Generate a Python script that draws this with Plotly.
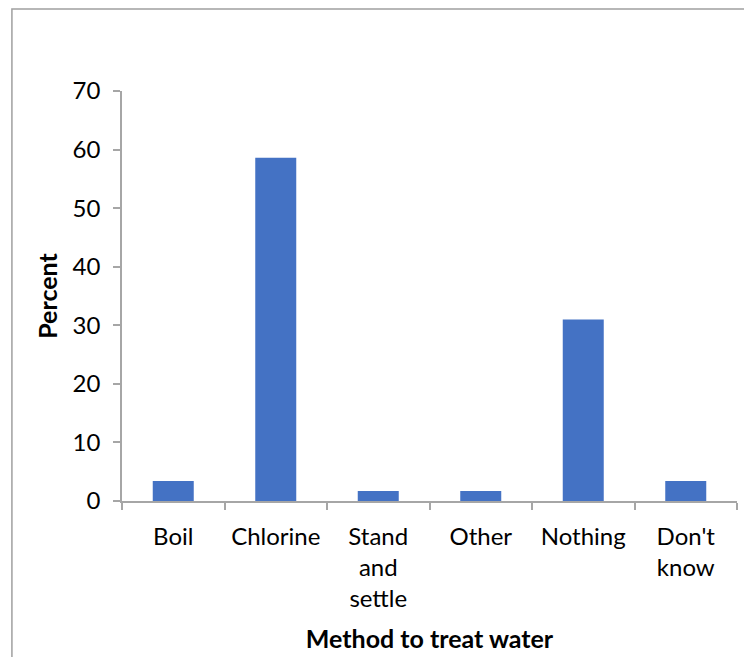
import plotly.graph_objects as go

# Share of households by water treatment method
methods = ["Boil", "Chlorine", "Stand<br>and<br>settle", "Other", "Nothing", "Don't<br>know"]
percent = [3.4, 58.6, 1.7, 1.7, 31.0, 3.4]
y_ticks = [0, 10, 20, 30, 40, 50, 60, 70]

FONT = "Lato"
AXIS_GREY = "#A6A6A6"

fig = go.Figure(
    go.Bar(
        x=methods,
        y=percent,
        marker=dict(color="#4472C4", line=dict(width=0)),
        hoverinfo="x+y",
    )
)

fig.update_layout(
    width=744,
    height=657,
    margin=dict(l=122, r=7, t=91, b=156),
    paper_bgcolor="white",
    plot_bgcolor="white",
    bargap=0.6,
    showlegend=False,
    font=dict(family=FONT, size=24, color="#000000"),
    shapes=[
        dict(
            type="rect",
            xref="paper",
            yref="paper",
            x0=-0.179,
            x1=1.03,
            y0=-0.45,
            y1=1.2,
            line=dict(color="#A0A0A0", width=1.5),
            fillcolor="rgba(0,0,0,0)",
            layer="below",
        )
    ],
)

fig.update_xaxes(
    type="category",
    showline=True,
    linecolor=AXIS_GREY,
    linewidth=1.5,
    ticks="outside",
    tickson="boundaries",
    ticklen=7,
    tickcolor=AXIS_GREY,
    tickwidth=1.5,
    ticklabelstandoff=13,
    showgrid=False,
    tickfont=dict(family=FONT, size=24),
    title=dict(
        text="<b>Method to treat water</b>",
        font=dict(family=FONT, size=25),
        standoff=20,
    ),
)

fig.update_yaxes(
    range=[0, 70],
    tickvals=y_ticks,
    showline=True,
    linecolor=AXIS_GREY,
    linewidth=1.5,
    ticks="outside",
    ticklen=7,
    tickcolor=AXIS_GREY,
    tickwidth=1.5,
    ticklabelstandoff=8,
    showgrid=False,
    zeroline=False,
    tickfont=dict(family=FONT, size=24),
    title=dict(
        text="<b>Percent</b>",
        font=dict(family=FONT, size=25),
        standoff=8,
    ),
)

fig.write_html("out.html")
